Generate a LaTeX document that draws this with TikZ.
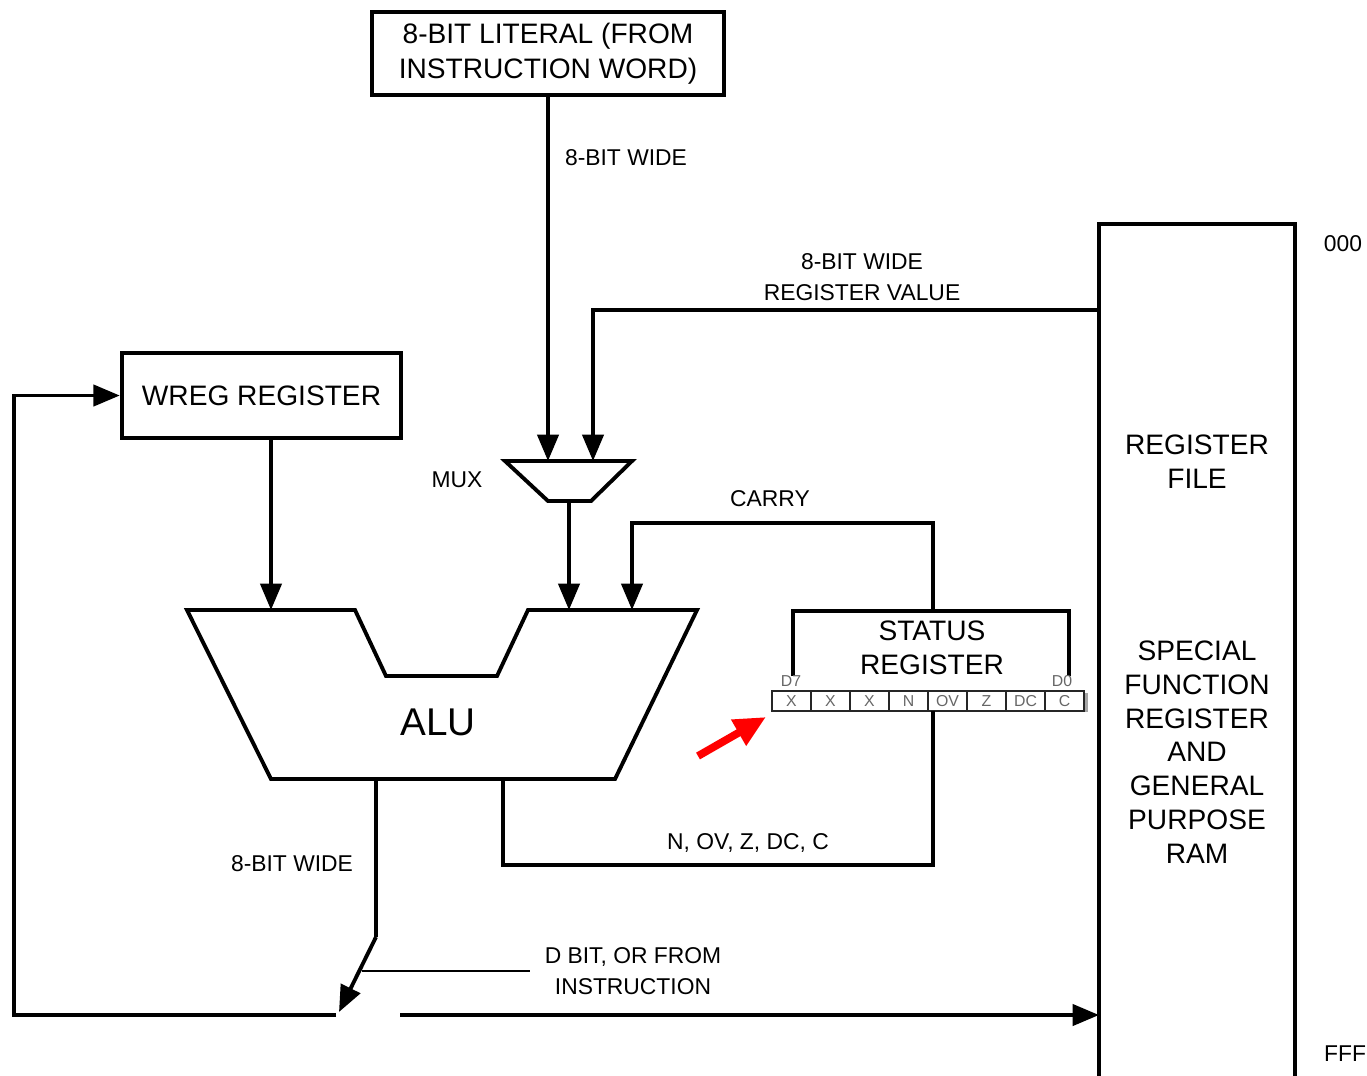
\documentclass[tikz,border=0pt]{standalone}
\usepackage{fontspec}
\setmainfont{Liberation Sans}
\usetikzlibrary{arrows.meta, calc}

\begin{document}
\begin{tikzpicture}[x=0.01cm, y=-0.01cm, line width=1.1pt,
    arr/.style={-{Triangle[length=7.5pt, width=6pt]}},
    box/.style={draw, line width=1.2pt, inner sep=0pt, align=center, font=\fontsize{8}{10}\selectfont},
    txt/.style={align=center, inner sep=0pt, font=\fontsize{8}{9.6}\selectfont},
    lbl/.style={align=center, inner sep=1pt, font=\fontsize{6.5}{8.6}\selectfont},
    bitcell/.style={draw=black!85, line width=0.6pt, minimum width=0.39cm, minimum height=0.2cm, inner sep=0pt, text=black!60, font=\fontsize{4.5}{5}\selectfont}]
    \useasboundingbox (0,0) rectangle (1367,1075);

    % Blocchi principali
    \node[box, minimum width=3.52cm, minimum height=0.83cm] (literal) at (548,53.5) {8-BIT LITERAL (FROM\\INSTRUCTION WORD)};
    \node[box, minimum width=2.79cm, minimum height=0.85cm] (wreg) at (261.5,395.5) {WREG REGISTER};
    \node[minimum width=1.92cm, minimum height=8.49cm, inner sep=0pt] (regfile) at (1197,650.5) {};
    \draw[line width=1.2pt] (regfile.south west) |- (regfile.north east) -- (regfile.south east);
    \node[txt] (rftitle) at (1197,462) {REGISTER\\FILE};
    \node[txt] (rfram) at (1197,752) {SPECIAL\\FUNCTION\\REGISTER\\AND\\GENERAL\\PURPOSE\\RAM};
    \node[lbl] (top) at (1343,244) {000};
    \node[lbl] (bottom) at (1345,1054) {FFF};

    % MUX
    \coordinate (muxA) at (548,461);
    \coordinate (muxB) at (593,461);
    \coordinate (muxO) at (569,501);
    \draw (505,461) -- (632,461) -- (591,501) -- (548,501) -- cycle;
    \node[lbl] (muxlbl) at (457,480) {MUX};

    % ALU
    \coordinate (aluA) at (271,610);
    \coordinate (aluB) at (569,610);
    \coordinate (aluC) at (632,610);
    \coordinate (aluO) at (376,779);
    \coordinate (aluF) at (503,779);
    \draw (187,610) -- (355,610) -- (386,676) -- (497,676) -- (528,610)
        -- (697,610) -- (615,779) -- (271,779) -- cycle;
    \node[font=\fontsize{11}{13}\selectfont] (alu) at (438,722) {ALU};

    % Registro di stato
    \coordinate (statT) at (933,611);
    \coordinate (statB) at (933,711);
    \draw (793,676) |- (1069,611) -- (1069,676);
    \node[txt] (status) at (932,648) {STATUS\\REGISTER};
    \node[font=\fontsize{4.5}{5}\selectfont, text=black!60, inner sep=0pt] (d7) at (791,681) {D7};
    \node[font=\fontsize{4.5}{5}\selectfont, text=black!60, inner sep=0pt] (d0) at (1062,681) {D0};
    \fill[black!35] (1084,693) rectangle (1088,712);
    \foreach \b [count=\i] in {X,X,X,N,OV,Z,DC,C}
        \node[bitcell] (bit\i) at ({772+39*\i-19.5},701) {\b};

    % Collegamenti
    \draw[arr] (literal.south) -- (muxA);
    \node[lbl] (w1) at (626,158) {8-BIT WIDE};
    \draw[arr] (regfile.west |- 0,310) -| (muxB);
    \node[lbl] (w2) at (862,277) {8-BIT WIDE\\REGISTER VALUE};
    \draw[arr] (muxO) -- (aluB);
    \draw[arr] (wreg.south -| aluA) -- (aluA);
    \draw[arr] (statT) -- (statT |- 0,523) -| (aluC);
    \node[lbl] (carry) at (770,499) {CARRY};
    \draw (statB) -- (statB |- 0,865) -| (aluF);
    \node[lbl] (flags) at (748,843) {N, OV, Z, DC, C};

    % Uscita ALU e selettore
    \coordinate (swT) at (376,937);
    \coordinate (swP) at (339,1012);
    \coordinate (swL) at (336,1015);
    \coordinate (swR) at (400,1015);
    \draw (aluO) -- (swT);
    \draw[arr] (swT) -- (swP);
    \node[lbl] (w3) at (292,864) {8-BIT WIDE};
    \draw[arr] (swL) -- (14,1015) |- (wreg.west);
    \draw[arr] (swR) -- (regfile.west |- swR);
    \coordinate (dsel) at (362,971);
    \coordinate (dend) at (530,971);
    \draw[line width=0.8pt] (dsel) -- (dend);
    \node[lbl] (dbit) at (633,971) {D BIT, OR FROM\\INSTRUCTION};

    % Freccia rossa
    \coordinate (ptr) at (698,756);
    \coordinate (ptrend) at (766,717);
    \draw[red, line width=2.2pt, -{Triangle[length=9pt, width=8pt]}] (ptr) -- (ptrend);
\end{tikzpicture}
\end{document}
